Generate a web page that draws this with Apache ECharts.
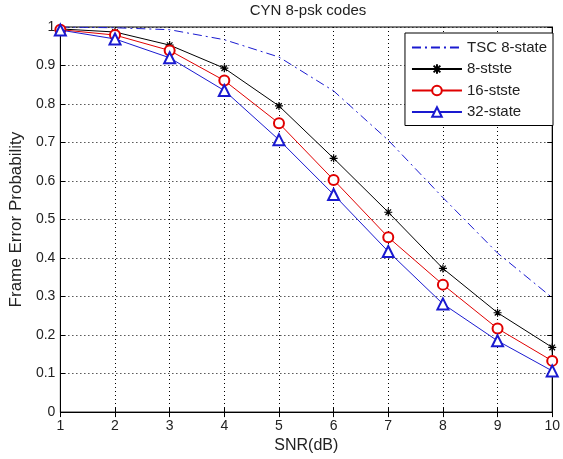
<!DOCTYPE html>
<html><head><meta charset="utf-8">
<script src="https://cdn.jsdelivr.net/npm/echarts@6/dist/echarts.min.js"></script>
<style>html,body{margin:0;padding:0;background:#fff}#c{width:563px;height:459px}</style>
</head><body><div id="c"></div>
<script>
const snr = [1, 2, 3, 4, 5, 6, 7, 8, 9, 10];
const tsc8 = [1.0, 0.998, 0.993, 0.967, 0.922, 0.834, 0.706, 0.557, 0.413, 0.297];
const st8 = [0.995, 0.987, 0.953, 0.893, 0.795, 0.659, 0.519, 0.373, 0.258, 0.168];
const st16 = [0.993, 0.979, 0.939, 0.861, 0.750, 0.603, 0.454, 0.331, 0.217, 0.133];
const st32 = [0.992, 0.969, 0.920, 0.835, 0.707, 0.565, 0.417, 0.281, 0.185, 0.107];
const names = ['TSC 8-state', '8-stste', '16-stste', '32-state'];

const pair = a => snr.map((x, i) => [x, a[i]]);
const FONT = 'Liberation Sans';
const TXT = '#222';
const star = 'path://M0,5L10,5M5,0L5,10M1.5,1.5L8.5,8.5M8.5,1.5L1.5,8.5';
const grid = {type: [1, 3], color: '#000', width: 1};
const hidden = 'rgba(0,0,0,0)';

const chart = echarts.init(document.getElementById('c'), null, {renderer: 'canvas'});
chart.setOption({
  animation: false,
  backgroundColor: '#fff',
  title: {text: 'CYN 8-psk codes', left: 308, top: 3, textAlign: 'center', padding: 0,
    textStyle: {fontFamily: FONT, fontSize: 15, fontWeight: 'normal', color: TXT}},
  grid: {left: 60, right: 5, top: 27, bottom: 46, show: true, borderColor: '#000', borderWidth: 1},
  legend: {
    orient: 'vertical', right: 10, top: 33, padding: [7, 6, 6, 6], itemGap: 6.5,
    backgroundColor: '#fff', borderColor: '#000', borderWidth: 1, borderRadius: 0,
    itemWidth: 50, itemHeight: 12,
    textStyle: {fontFamily: FONT, fontSize: 15, color: TXT},
    data: [
      {name: names[0], itemStyle: {color: hidden, borderColor: hidden, borderWidth: 0, opacity: 0}},
      names[1], names[2], names[3]
    ]
  },
  xAxis: [{
    type: 'value', min: 1, max: 10, interval: 1,
    name: 'SNR(dB)', nameLocation: 'middle', nameGap: 24,
    nameTextStyle: {fontFamily: FONT, fontSize: 16, color: TXT},
    axisLine: {lineStyle: {color: '#000'}},
    axisTick: {inside: true, length: 5, lineStyle: {color: '#000'}},
    axisLabel: {fontFamily: FONT, fontSize: 14, color: TXT, margin: 7},
    splitLine: {show: true, lineStyle: grid}
  }, {
    type: 'value', position: 'top', min: 1, max: 10, interval: 1,
    axisLine: {lineStyle: {color: '#000'}},
    axisTick: {inside: true, length: 5, lineStyle: {color: '#000'}},
    axisLabel: {show: false}, splitLine: {show: false}
  }],
  yAxis: [{
    type: 'value', min: 0, max: 1, interval: 0.1,
    name: 'Frame Error Probability', nameLocation: 'middle', nameGap: 33,
    nameTextStyle: {fontFamily: FONT, fontSize: 17, color: TXT},
    axisLine: {show: true, lineStyle: {color: '#000'}},
    axisTick: {show: true, inside: true, length: 5, lineStyle: {color: '#000'}},
    axisLabel: {fontFamily: FONT, fontSize: 14, color: TXT, margin: 5,
      formatter: v => String(Math.round(v * 10) / 10)},
    splitLine: {show: true, lineStyle: grid}
  }, {
    type: 'value', position: 'right', min: 0, max: 1, interval: 0.1,
    axisLine: {show: true, lineStyle: {color: '#000'}},
    axisTick: {show: true, inside: true, length: 5, lineStyle: {color: '#000'}},
    axisLabel: {show: false}, splitLine: {show: false}
  }],
  series: [
    {name: names[0], type: 'line', data: pair(tsc8), symbol: 'none',
      lineStyle: {color: '#1a1ad0', width: 1, type: [9, 4, 2, 4]}, itemStyle: {color: '#1a1ad0'}, z: 2},
    {name: names[1], type: 'line', data: pair(st8), symbol: star, symbolSize: 8,
      lineStyle: {color: '#000', width: 1},
      itemStyle: {color: '#000', borderColor: '#000', borderWidth: 1.2}, z: 3},
    {name: names[2], type: 'line', data: pair(st16), symbol: 'emptyCircle', symbolSize: 10,
      lineStyle: {color: '#e00000', width: 1},
      itemStyle: {color: '#e00000', borderColor: '#e00000', borderWidth: 1}, z: 4},
    {name: names[3], type: 'line', data: pair(st32), symbol: 'emptyTriangle', symbolSize: 11,
      lineStyle: {color: '#1a1ad0', width: 1},
      itemStyle: {color: '#1a1ad0', borderColor: '#1a1ad0', borderWidth: 1}, z: 5}
  ]
});
</script></body></html>
